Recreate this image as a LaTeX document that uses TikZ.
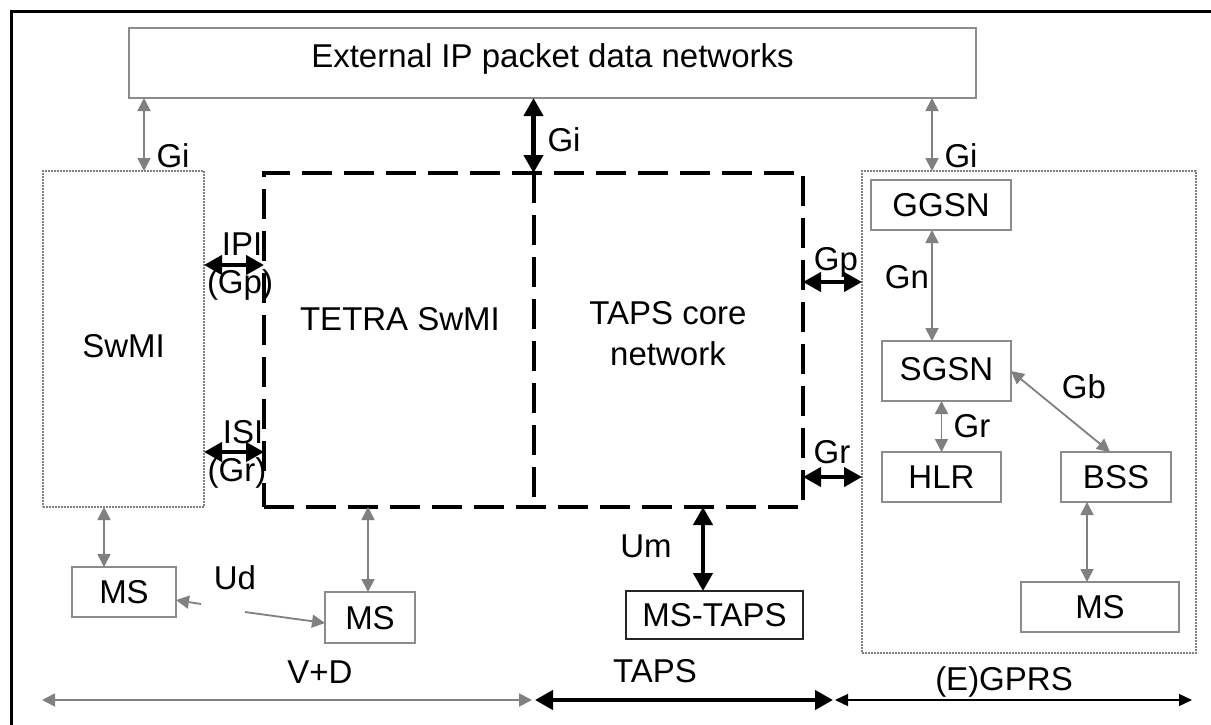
\documentclass[tikz,border=0pt]{standalone}
\usepackage{fontspec}
\setmainfont{Liberation Sans}
\usetikzlibrary{arrows.meta}
\definecolor{linegray}{RGB}{128,128,128}
\definecolor{boxgray}{RGB}{140,140,140}
\definecolor{dotgray}{RGB}{128,128,128}

\begin{document}
\begin{tikzpicture}[x=1pt,y=-1pt,
  every node/.style={font=\fontsize{33}{41}\selectfont, inner sep=0pt, outer sep=0pt},
  box/.style={draw=boxgray, line width=1.6pt, text height=23.6pt, text depth=0pt},
  tapsbox/.style={draw=black!85, line width=1.5pt, text height=23.6pt, text depth=0pt},
  dotbox/.style={draw=dotgray, line width=1.5pt, dash pattern=on 2pt off 1pt, text height=23.6pt, text depth=0pt},
  corebox/.style={draw=black, line width=4pt, dash pattern=on 30pt off 12pt},
  divider/.style={draw=black, line width=4pt, dash pattern=on 30pt off 12pt},
  frame/.style={draw=black, line width=3pt},
  lbl/.style={anchor=base},
  garrow/.style={draw=linegray, line width=1.8pt, {Triangle[length=13pt,width=13pt]}-{Triangle[length=13pt,width=13pt]}},
  garrowend/.style={draw=linegray, line width=1.8pt, -{Triangle[length=13pt,width=13pt]}},
  barrow/.style={draw=black, line width=4.2pt, {Triangle[length=18pt,width=19pt]}-{Triangle[length=18pt,width=19pt]}},
  tarrow/.style={draw=black, line width=1.3pt, {Triangle[length=13pt,width=12pt]}-{Triangle[length=13pt,width=12pt]}}
]
\useasboundingbox (0,0) rectangle (1211,724);

% page frame
\draw[frame] (11,730) -- (11,11) -- (1220,11);

% boxes
\node[box, minimum width=847pt, minimum height=70pt, text height=8pt] (ext) at (552.5,63) {External IP packet data networks};
\node[dotbox, minimum width=161pt, minimum height=336pt, text height=36pt] (swmi) at (123.5,339) {SwMI};
\node[corebox, minimum width=539pt, minimum height=334pt] (core) at (533.5,340) {};
\draw[divider] (core.north) -- (core.south);
\node[dotbox, minimum width=334pt, minimum height=482pt] (gprs) at (1029,412) {};

\node[box, minimum width=140pt, minimum height=50pt] (ggsn) at (941,205) {GGSN};
\node[box, minimum width=129pt, minimum height=60pt, text height=18pt] (sgsn) at (946.5,371) {SGSN};
\node[box, minimum width=119pt, minimum height=50pt] (hlr) at (941.5,477) {HLR};
\node[box, minimum width=110pt, minimum height=50pt] (bss) at (1116,477) {BSS};
\node[box, minimum width=158pt, minimum height=50pt] (msg) at (1100,607) {MS};
\node[box, minimum width=104pt, minimum height=50pt] (msl) at (124,592) {MS};
\node[box, minimum width=90pt, minimum height=51pt] (msm) at (370,617.5) {MS};
\node[tapsbox, minimum width=177pt, minimum height=48pt] (mstaps) at (714.5,615) {MS-TAPS};

% texts inside the core network area
\node[lbl] (tetra) at (400,330) {TETRA SwMI};
\node[align=center] (tapscore) at (668,333.7) {TAPS core\\network};

% interface labels
\node[lbl] (giL) at (173,167) {Gi};
\node[lbl] (giC) at (564,151) {Gi};
\node[lbl] (giR) at (961,167) {Gi};
\node[lbl] (ipi) at (242,255) {IPI};
\node[lbl] (ipigp) at (240,293) {(Gp)};
\node[lbl] (isi) at (243,443) {ISI};
\node[lbl] (isigr) at (237,481) {(Gr)};
\node[lbl] (gp) at (836,270) {Gp};
\node[lbl] (gn) at (907,288) {Gn};
\node[lbl] (grR) at (832,463) {Gr};
\node[lbl] (grI) at (972,437) {Gr};
\node[lbl] (gb) at (1084,398) {Gb};
\node[lbl] (um) at (646,557) {Um};
\node[lbl] (ud) at (235,589) {Ud};
\node[lbl] (vd) at (320,683) {V+D};
\node[lbl] (taps) at (655,682) {TAPS};
\node[lbl] (egprs) at (1004,690) {(E)GPRS};

% helper columns and rows
\coordinate (cGiL) at (144,0);
\coordinate (cGiR) at (932,0);
\coordinate (cUm) at (703,0);
\coordinate (cSwMs) at (104,0);
\coordinate (cCoreMs) at (368,0);
\coordinate (cBssMs) at (1087,0);
\coordinate (rIPI) at (0,265);
\coordinate (rISI) at (0,452);
\coordinate (rGp) at (0,282);
\coordinate (rGr) at (0,477);
\coordinate (ud1) at (201,604);
\coordinate (ud2) at (245,612);
\coordinate (vdL) at (42,700);
\coordinate (vdR) at (532,700);
\coordinate (tapsL) at (535,700);
\coordinate (tapsR) at (833,700);
\coordinate (egL) at (835,700);
\coordinate (egR) at (1192,700);

% connectors
\draw[garrow] (cGiL |- ext.south) -- (cGiL |- swmi.north);
\draw[barrow] (core.north |- ext.south) -- (core.north);
\draw[garrow] (cGiR |- ext.south) -- (cGiR |- gprs.north);
\draw[barrow] (swmi.east |- rIPI) -- (core.west |- rIPI);
\draw[barrow] (swmi.east |- rISI) -- (core.west |- rISI);
\draw[barrow] (core.east |- rGp) -- (gprs.west |- rGp);
\draw[barrow] (core.east |- rGr) -- (gprs.west |- rGr);
\draw[garrow] (cGiR |- ggsn.south) -- (cGiR |- sgsn.north);
\draw[garrow] (hlr.north |- sgsn.south) -- (hlr.north);
\draw[garrow] (sgsn.east) -- ([xshift=-6pt]bss.north);
\draw[garrow] (cBssMs |- bss.south) -- (cBssMs |- msg.north);
\draw[barrow] (cUm |- core.south) -- (cUm |- mstaps.north);
\draw[garrow] (cSwMs |- swmi.south) -- (cSwMs |- msl.north);
\draw[garrow] (cCoreMs |- core.south) -- (cCoreMs |- msm.north);
\draw[garrowend] (ud1) -- (msl);
\draw[garrowend] (ud2) -- ([yshift=-5.5pt]msm.west);

% domain extents along the bottom
\draw[garrow] (vdL) -- (vdR);
\draw[barrow] (tapsL) -- (tapsR);
\draw[tarrow] (egL) -- (egR);
\end{tikzpicture}
\end{document}
